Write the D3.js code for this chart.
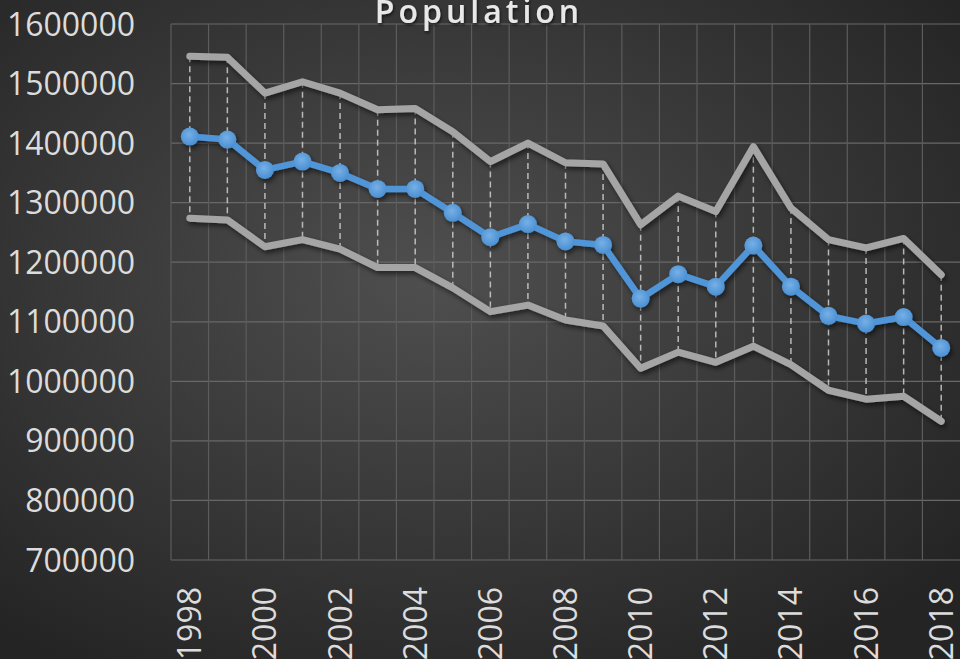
<!DOCTYPE html>
<html>
<head>
<meta charset="utf-8">
<script src="https://cdn.jsdelivr.net/npm/d3@7"></script>
<style>
  html, body { margin:0; padding:0; background:#2b2b2b; overflow:hidden; }
  text { font-family: "Open Sans", "Liberation Sans", sans-serif; }
</style>
</head>
<body>
<div id="chart"></div>
<script>
var years = [1998,1999,2000,2001,2002,2003,2004,2005,2006,2007,2008,2009,2010,2011,2012,2013,2014,2015,2016,2017,2018];
var highValues = [1546000,1544000,1484000,1503000,1484000,1456000,1458000,1419000,1369000,1400000,1367000,1365000,1263000,1311000,1285000,1394000,1291000,1238000,1224000,1240000,1179000];
var meanValues = [1411000,1406000,1355000,1369000,1350000,1323000,1323000,1283000,1242000,1264000,1235000,1229000,1139000,1180000,1159000,1228000,1159000,1110000,1097000,1108000,1056000];
var lowValues  = [1274000,1271000,1226000,1238000,1222000,1191000,1191000,1157000,1117000,1128000,1103000,1093000,1022000,1049000,1032000,1059000,1028000,985000,970000,975000,933000];
var yTicks = [700000,800000,900000,1000000,1100000,1200000,1300000,1400000,1500000,1600000];
var xLabels = [1998,2000,2002,2004,2006,2008,2010,2012,2014,2016,2018];
var title = "Population";

(function () {
    var W = 960, H = 659;
    var margin = {top:24, left:171, right:0, bottom:99};

    var svg = d3.select("#chart").append("svg")
                .attr("width", W).attr("height", H);

    var defs = svg.append("defs");
    var bg = defs.append("radialGradient").attr("id","bg")
                 .attr("cx","45%").attr("cy","42%").attr("r","70%");
    bg.append("stop").attr("offset","0%").attr("stop-color","#4f4f4f");
    bg.append("stop").attr("offset","100%").attr("stop-color","#242424");

    var shadow = defs.append("filter").attr("id","shadow")
                     .attr("x","-20%").attr("y","-20%").attr("width","140%").attr("height","140%");
    shadow.append("feDropShadow").attr("dx",2).attr("dy",3).attr("stdDeviation",2.5)
          .attr("flood-color","#000").attr("flood-opacity",0.55);

    var dot = defs.append("radialGradient").attr("id","dot")
                  .attr("cx","45%").attr("cy","40%").attr("r","60%");
    dot.append("stop").attr("offset","0%").attr("stop-color","#76b0e6");
    dot.append("stop").attr("offset","100%").attr("stop-color","#4a8fd2");

    var tshadow = defs.append("filter").attr("id","tshadow");
    tshadow.append("feDropShadow").attr("dx",1).attr("dy",2).attr("stdDeviation",1.5)
           .attr("flood-color","#000").attr("flood-opacity",0.6);

    svg.append("rect").attr("width",W).attr("height",H).attr("fill","url(#bg)");

    var x = d3.scaleBand().domain(years).range([margin.left, W - margin.right]).padding(0);
    var y = d3.scaleLinear().domain([700000,1600000]).range([H - margin.bottom, margin.top]);

    // grid
    var grid = svg.append("g");
    grid.selectAll(".hg").data(yTicks).enter().append("line")
        .attr("x1", margin.left).attr("x2", W)
        .attr("y1", function(d){ return y(d); }).attr("y2", function(d){ return y(d); })
        .attr("stroke","#686868").attr("stroke-width",1.2);
    grid.selectAll(".vg").data(years).enter().append("line")
        .attr("x1", function(d){ return x(d); }).attr("x2", function(d){ return x(d); })
        .attr("y1", y(1600000)).attr("y2", y(700000))
        .attr("stroke","#5c5c5c").attr("stroke-width",1.2);

    // y labels
    svg.append("g").selectAll("text").data(yTicks).enter().append("text")
       .attr("x", 135).attr("y", function(d){ return y(d); })
       .attr("dy","0.36em").attr("text-anchor","end")
       .attr("font-size",32).attr("fill","#dcdcdc")
       .text(function(d){ return d; });

    // x labels
    svg.append("g").selectAll("text").data(xLabels).enter().append("text")
       .attr("transform", function(d){ return "translate(" + (x(d) + x.bandwidth()/2) + ",587) rotate(-90)"; })
       .attr("dy","0.36em").attr("text-anchor","end")
       .attr("font-size",32).attr("fill","#dcdcdc")
       .text(function(d){ return d; });

    var cx = function(i){ return x(years[i]) + x.bandwidth()/2; };

    // drop lines
    svg.append("g").selectAll("line").data(years).enter().append("line")
       .attr("x1", function(d,i){ return cx(i); }).attr("x2", function(d,i){ return cx(i); })
       .attr("y1", function(d,i){ return y(highValues[i]); })
       .attr("y2", function(d,i){ return y(lowValues[i]); })
       .attr("stroke","#cfcfcf").attr("stroke-width",1.5)
       .attr("stroke-dasharray","6,4").attr("opacity",0.85);

    var line = d3.line().x(function(d,i){ return cx(i); }).y(function(d){ return y(d); });

    [highValues, lowValues].forEach(function(vals){
        svg.append("path").datum(vals)
           .attr("d", line).attr("fill","none")
           .attr("stroke","#a5a5a5").attr("stroke-width",7)
           .attr("stroke-linejoin","round").attr("stroke-linecap","round")
           .attr("filter","url(#shadow)");
    });

    var meanG = svg.append("g").attr("filter","url(#shadow)");
    meanG.append("path").datum(meanValues)
         .attr("d", line).attr("fill","none")
         .attr("stroke","#4f95d8").attr("stroke-width",6.5)
         .attr("stroke-linejoin","round");
    meanG.selectAll("circle").data(meanValues).enter().append("circle")
         .attr("cx", function(d,i){ return cx(i); })
         .attr("cy", function(d){ return y(d); })
         .attr("r", 9).attr("fill","url(#dot)");

    svg.append("text").attr("x", 479).attr("y", 23)
       .attr("text-anchor","middle").attr("font-size",32).attr("font-weight","600")
       .attr("letter-spacing",4).attr("fill","#e8e8e8").attr("filter","url(#tshadow)")
       .text(title);
})();
</script>
</body>
</html>
